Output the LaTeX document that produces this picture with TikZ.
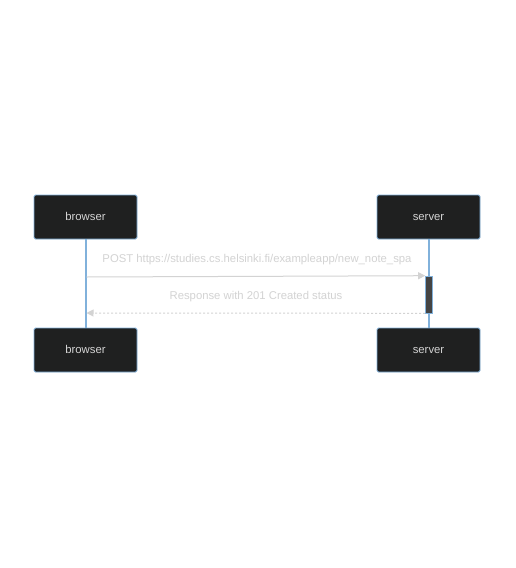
\documentclass[tikz,border=0pt]{standalone}
\usepackage{fontspec}
\setmainfont{Liberation Sans}
\usetikzlibrary{arrows.meta}
\definecolor{boxfill}{HTML}{1F2020}
\definecolor{boxline}{HTML}{81B1DB}
\definecolor{msgtext}{HTML}{D3D3D3}
\definecolor{actfill}{HTML}{444444}
\tikzset{
  actor/.style={draw=boxline, fill=boxfill, rounded corners=1.5pt, minimum width=103pt,
    minimum height=44pt, text=msgtext, font=\fontsize{11.3}{13}\selectfont, line width=0.8pt,
    text height=1.6ex, text depth=0.4ex},
  lifeline/.style={draw=boxline, line width=1.2pt},
  msg/.style={draw=msgtext, line width=1pt, -{Triangle[length=7pt,width=7pt]}},
  reply/.style={msg, dash pattern=on 2pt off 2pt},
  msglabel/.style={text=msgtext, font=\fontsize{11.3}{13}\selectfont}
}
\begin{document}
\begin{tikzpicture}[x=1pt,y=-1pt]
\useasboundingbox[fill=white] (0,0) rectangle (515,568);
% participants
\node[actor] (browsertop) at (85.5,217) {browser};
\node[actor] (servertop) at (428.5,217) {server};
\node[actor] (browserbot) at (85.5,350) {browser};
\node[actor] (serverbot) at (428.5,350) {server};
% lifelines
\draw[lifeline] ([xshift=0.5pt]browsertop.south) -- ([xshift=0.5pt]browserbot.north);
\draw[lifeline] ([xshift=0.5pt]servertop.south) -- ([xshift=0.5pt]serverbot.north);
% activation
\node[draw=boxline, fill=actfill, minimum width=7pt, minimum height=37pt, inner sep=0pt,
  line width=0.6pt] (act) at (429,294.5) {};
% messages
\coordinate (postfrom) at (86.5,277);
\coordinate (postto) at (act.north west);
\draw[msg] (postfrom) -- (postto);
\node[msglabel] (postlabel) at (257,260) {POST https://studies.cs.helsinki.fi/exampleapp/new\_note\_spa};
\coordinate (respfrom) at (act.south west);
\coordinate (respto) at (86.5,313);
\draw[reply] (respfrom) -- (respto);
\node[msglabel] (resplabel) at (256,297) {Response with 201 Created status};
\end{tikzpicture}
\end{document}
